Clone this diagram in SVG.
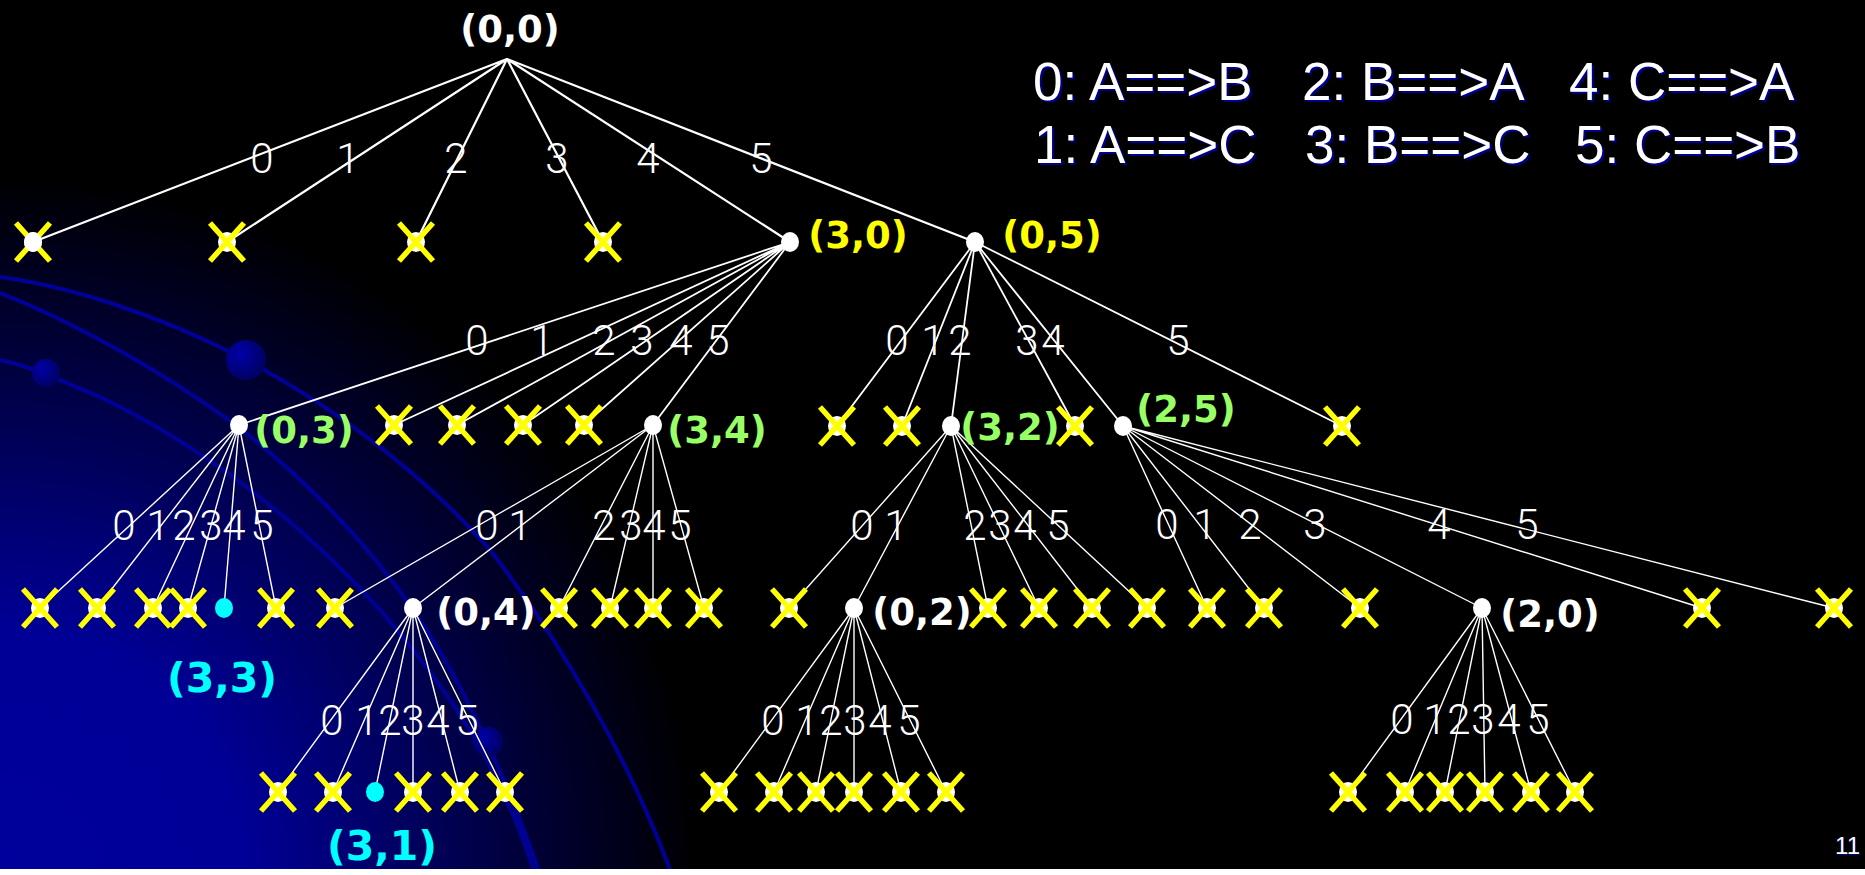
<svg xmlns="http://www.w3.org/2000/svg" xmlns:xlink="http://www.w3.org/1999/xlink" width="1865" height="875" viewBox="0 0 1865 875">
<style>
.e1{stroke:#fff;stroke-width:2.2;fill:none}
.e2{stroke:#fff;stroke-width:1.8;fill:none}
.e3{stroke:#fff;stroke-width:1.4;fill:none}
.el{font-family:Roboto,"Liberation Sans",sans-serif;font-weight:300;font-size:42px;fill:#fff;text-anchor:middle}
.nl{font-family:"DejaVu Sans",Verdana,sans-serif;font-weight:bold;font-size:37px;text-anchor:middle}
.big{font-size:41px}
.w{fill:#fff}.y{fill:#ff0}.g{fill:#99ff66}.c{fill:#00ffff}
.lg{font-family:"Liberation Sans",Arial,sans-serif;font-size:53px}
.sh{fill:#000090}
.curve{stroke:#000099;stroke-width:4;fill:none}
</style>
<defs>
<radialGradient id="bg" cx="0" cy="875" r="700" gradientUnits="userSpaceOnUse">
<stop offset="0" stop-color="#00009c"/>
<stop offset="0.35" stop-color="#000096"/>
<stop offset="1" stop-color="#000000"/>
</radialGradient>
<radialGradient id="ball" cx="0.35" cy="0.35" r="0.7">
<stop offset="0" stop-color="#0000a8"/>
<stop offset="1" stop-color="#000060"/>
</radialGradient>
<g id="xm"><ellipse rx="9" ry="10" fill="#fff"/><path d="M-17,-19L17,19M17,-19L-17,19" stroke="#ff0" stroke-width="5.5"/></g>
<ellipse id="dot" rx="9" ry="10" fill="#fff"/>
<ellipse id="cdot" rx="9" ry="10" fill="#00ffff"/>
</defs>
<rect width="1865" height="875" fill="#000"/>
<rect width="1865" height="875" fill="url(#bg)"/>
<g id="background-curves">
<path class="curve" d="M0,277 C60,285 150,310 246,360 C330,405 420,470 490,550 C560,640 630,760 672,875"/>
<path class="curve" d="M0,293 C70,320 160,370 233,423 C320,490 380,560 420,620 C460,680 500,760 540,875"/>
<path class="curve" d="M0,360 C30,366 60,380 100,397 C200,445 300,520 380,610 C440,680 500,760 535,875"/>
<circle cx="246" cy="360" r="20" fill="url(#ball)"/>
<circle cx="46" cy="373" r="14" fill="url(#ball)"/>
<circle cx="488" cy="742" r="15" fill="url(#ball)"/>
</g>
<rect x="0" y="869" width="1865" height="6" fill="#fff"/>
<g id="legend" class="lg">
<g class="sh" transform="translate(2,2)">
<text x="1033" y="100">0: A==&gt;B</text><text x="1302" y="100">2: B==&gt;A</text><text x="1569" y="100">4: C==&gt;A</text>
<text x="1034" y="163">1: A==&gt;C</text><text x="1305" y="163">3: B==&gt;C</text><text x="1575" y="163">5: C==&gt;B</text>
</g>
<g class="w">
<text x="1033" y="100">0: A==&gt;B</text><text x="1302" y="100">2: B==&gt;A</text><text x="1569" y="100">4: C==&gt;A</text>
<text x="1034" y="163">1: A==&gt;C</text><text x="1305" y="163">3: B==&gt;C</text><text x="1575" y="163">5: C==&gt;B</text>
</g>
</g>
<g id="page-number" font-family="Liberation Sans, Arial, sans-serif" font-size="24" text-anchor="end">
<text x="1861" y="855" fill="#000090">11</text>
<text x="1860" y="854" fill="#fff">11</text>
</g>
<g id="connectors">
<g class="e1">
<path d="M507,59L33,242M507,59L227,242M507,59L416,242M507,59L603,242M507,59L790,242M507,59L975,242"/>
</g>
<g class="e2">
<path d="M790,242L239,425M790,242L394,425M790,242L457,425M790,242L523,425M790,242L584,425M790,242L653,425"/>
<path d="M975,242L837,426M975,242L902,426M975,242L951,426M975,242L1075,426M975,242L1123,426M975,242L1342,426"/>
</g>
<g class="e3">
<path d="M239,425L40,608M239,425L97,608M239,425L153,608M239,425L188,608M239,425L224,608M239,425L276,608"/>
<path d="M653,425L335,608M653,425L413,608M653,425L559,608M653,425L610,608M653,425L653,608M653,425L704,608"/>
<path d="M951,426L789,608M951,426L854,608M951,426L988,608M951,426L1039,608M951,426L1092,608M951,426L1147,608"/>
<path d="M1123,426L1207,608M1123,426L1264,608M1123,426L1360,608M1123,426L1482,608M1123,426L1702,608M1123,426L1834,608"/>
<path d="M413,608L278,792M413,608L333,792M413,608L375,792M413,608L413,792M413,608L460,792M413,608L505,792"/>
<path d="M854,608L719,792M854,608L774,792M854,608L816,792M854,608L854,792M854,608L901,792M854,608L946,792"/>
<path d="M1482,608L1348,792M1482,608L1405,792M1482,608L1445,792M1482,608L1485,792M1482,608L1531,792M1482,608L1575,792"/>
</g>
</g>
<g id="edge-labels" class="el">
<text x="262" y="173">0</text><text x="348" y="173">1</text><text x="456" y="173">2</text><text x="557" y="173">3</text><text x="648" y="173">4</text><text x="761" y="173">5</text>
<text x="477" y="355">0</text><text x="542" y="355">1</text><text x="604" y="355">2</text><text x="642" y="355">3</text><text x="681" y="355">4</text><text x="718" y="355">5</text>
<text x="897" y="355">0</text><text x="933" y="355">1</text><text x="960" y="355">2</text><text x="1027" y="355">3</text><text x="1053" y="355">4</text><text x="1178" y="355">5</text>
<text x="124" y="540">0</text><text x="158" y="540">1</text><text x="184" y="540">2</text><text x="211" y="540">3</text><text x="234" y="540">4</text><text x="262" y="540">5</text>
<text x="487" y="540">0</text><text x="520" y="540">1</text><text x="604" y="540">2</text><text x="631" y="540">3</text><text x="654" y="540">4</text><text x="680" y="540">5</text>
<text x="862" y="540">0</text><text x="896" y="540">1</text><text x="975" y="540">2</text><text x="1000" y="540">3</text><text x="1025" y="540">4</text><text x="1058" y="540">5</text>
<text x="1167" y="539">0</text><text x="1205" y="539">1</text><text x="1250" y="539">2</text><text x="1315" y="539">3</text><text x="1439" y="539">4</text><text x="1527" y="539">5</text>
<text x="332" y="735">0</text><text x="367" y="735">1</text><text x="390" y="735">2</text><text x="413" y="735">3</text><text x="438" y="735">4</text><text x="467" y="735">5</text>
<text x="773" y="735">0</text><text x="807" y="735">1</text><text x="831" y="735">2</text><text x="855" y="735">3</text><text x="880" y="735">4</text><text x="909" y="735">5</text>
<text x="1402" y="734">0</text><text x="1435" y="734">1</text><text x="1459" y="734">2</text><text x="1483" y="734">3</text><text x="1509" y="734">4</text><text x="1538" y="734">5</text>
</g>
<g id="n-00"><text class="nl w" x="510" y="42">(0,0)</text></g>
<g id="n-l1-0"><use href="#xm" x="33" y="242"/><use href="#dot" x="33" y="242"/></g>
<g id="n-l1-1"><use href="#xm" x="227" y="242"/></g>
<g id="n-l1-2"><use href="#xm" x="416" y="242"/></g>
<g id="n-l1-3"><use href="#xm" x="603" y="242"/></g>
<g id="n-30"><use href="#dot" x="790" y="242"/><text class="nl y" x="858" y="248">(3,0)</text></g>
<g id="n-05"><use href="#dot" x="975" y="242"/><text class="nl y" x="1052" y="248">(0,5)</text></g>
<g id="n-03"><use href="#dot" x="239" y="425"/><text class="nl g" x="304" y="443">(0,3)</text></g>
<g id="n-34"><use href="#dot" x="653" y="425"/><text class="nl g" x="717" y="443">(3,4)</text></g>
<g id="n-32"><use href="#dot" x="951" y="426"/><text class="nl g" x="1010" y="440">(3,2)</text></g>
<g id="n-25"><use href="#dot" x="1123" y="426"/><text class="nl g" x="1186" y="422">(2,5)</text></g>
<g id="n-l2-x">
<use href="#xm" x="394" y="425"/><use href="#xm" x="457" y="425"/><use href="#xm" x="523" y="425"/><use href="#xm" x="584" y="425"/>
<use href="#xm" x="837" y="426"/><use href="#xm" x="902" y="426"/><use href="#xm" x="1075" y="426"/><use href="#xm" x="1342" y="426"/>
</g>
<g id="n-33"><use href="#cdot" x="224" y="608"/><text class="nl big c" x="222" y="692">(3,3)</text></g>
<g id="n-04"><use href="#dot" x="413" y="608"/><text class="nl w" x="486" y="625">(0,4)</text></g>
<g id="n-02"><use href="#dot" x="854" y="608"/><text class="nl w" x="922" y="625">(0,2)</text></g>
<g id="n-20"><use href="#dot" x="1482" y="608"/><text class="nl w" x="1550" y="627">(2,0)</text></g>
<g id="n-l3-x">
<use href="#xm" x="40" y="608"/><use href="#xm" x="97" y="608"/><use href="#xm" x="153" y="608"/><use href="#xm" x="188" y="608"/><use href="#xm" x="276" y="608"/>
<use href="#xm" x="335" y="608"/><use href="#xm" x="559" y="608"/><use href="#xm" x="610" y="608"/><use href="#xm" x="653" y="608"/><use href="#xm" x="704" y="608"/>
<use href="#xm" x="789" y="608"/><use href="#xm" x="988" y="608"/><use href="#xm" x="1039" y="608"/><use href="#xm" x="1092" y="608"/><use href="#xm" x="1147" y="608"/>
<use href="#xm" x="1207" y="608"/><use href="#xm" x="1264" y="608"/><use href="#xm" x="1360" y="608"/><use href="#xm" x="1702" y="608"/><use href="#xm" x="1834" y="608"/>
</g>
<g id="n-31"><use href="#cdot" x="375" y="792"/><text class="nl big c" x="382" y="860">(3,1)</text></g>
<g id="n-l4-x">
<use href="#xm" x="278" y="792"/><use href="#xm" x="333" y="792"/><use href="#xm" x="413" y="792"/><use href="#xm" x="460" y="792"/><use href="#xm" x="505" y="792"/>
<use href="#xm" x="719" y="792"/><use href="#xm" x="774" y="792"/><use href="#xm" x="816" y="792"/><use href="#xm" x="854" y="792"/><use href="#xm" x="901" y="792"/><use href="#xm" x="946" y="792"/>
<use href="#xm" x="1348" y="792"/><use href="#xm" x="1405" y="792"/><use href="#xm" x="1445" y="792"/><use href="#xm" x="1485" y="792"/><use href="#xm" x="1531" y="792"/><use href="#xm" x="1575" y="792"/>
</g>
</svg>
